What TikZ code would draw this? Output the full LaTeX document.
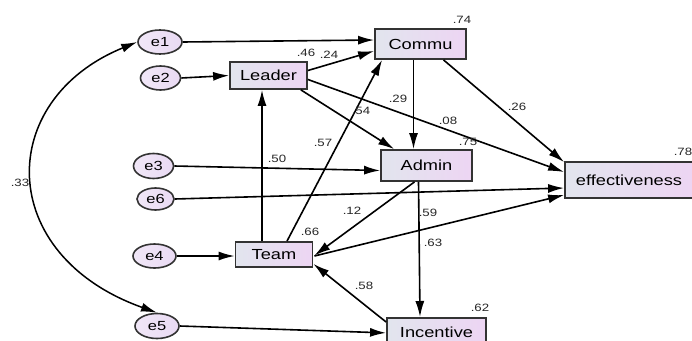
\documentclass[tikz,border=0pt]{standalone}
\usepackage{fontspec}
\setmainfont{Liberation Sans}[FakeStretch=1.25]
\usetikzlibrary{arrows.meta,calc,shapes.geometric}
\definecolor{lc}{HTML}{E2E5EE}
\definecolor{rc}{HTML}{EDD5F3}
\definecolor{ec}{HTML}{E9DAF3}
\begin{document}
\begin{tikzpicture}[x=1pt,y=-1pt,
 box/.style={draw=black!80, line width=1.8pt, left color=lc, right color=rc, inner sep=0pt, font=\fontsize{14.6}{16}\selectfont},
 err/.style={ellipse, draw=black!80, line width=1.6pt, left color=ec!65!white, right color=ec, inner sep=0pt, minimum height=24pt, font=\fontsize{13.2}{14}\selectfont},
 arr/.style={-{Latex[length=16pt,width=9pt]}, line width=1.6pt},
 darr/.style={{Latex[length=16pt,width=9pt]}-{Latex[length=16pt,width=9pt]}, line width=1.5pt},
 lab/.style={font=\fontsize{10.6}{12}\selectfont, text=black!85, inner sep=0pt}]
\useasboundingbox (0,0) rectangle (692,340);
\clip (0,0) rectangle (692,340);
\fill[white] (0,0) rectangle (692,340);
% boxes
\node[box, minimum width=77pt, minimum height=27pt] (leader) at (268.5,75.5) {Leader};
\node[box, minimum width=91pt, minimum height=30pt] (commu) at (420.5,44) {Commu};
\node[box, minimum width=91pt, minimum height=31pt] (admin) at (426.5,165.5) {Admin};
\node[box, minimum width=77pt, minimum height=25pt] (team) at (274,254.5) {Team};
\node[box, minimum width=128pt, minimum height=36pt] (eff) at (629,180) {effectiveness};
\node[box, minimum width=99pt, minimum height=28pt, anchor=north] (inc) at (436.5,317) {Incentive};
% errors
\node[err, minimum width=44pt] (e1) at (160,42) {e1};
\node[err, minimum width=40pt] (e2) at (160.5,78) {e2};
\node[err, minimum width=40pt, minimum height=25pt] (e3) at (153.5,166) {e3};
\node[err, minimum width=37pt, minimum height=22pt] (e6) at (155.5,199) {e6};
\node[err, minimum width=43pt] (e4) at (154.5,256) {e4};
\node[err, minimum width=44pt, minimum height=25pt] (e5) at (157,326) {e5};
% connectors
\draw[arr] (e1.east) -- ($(commu.west)+(0,-4)$);
\draw[arr] (e2.east) -- (leader.west);
\draw[arr] ($(leader.east)+(0,-5)$) -- ($(commu.west)+(0,7)$);
\draw[arr] ($(leader.south east)+(-7,0)$) -- ($(admin.north west)+(14,0)$);
\draw[arr] ($(leader.east)+(0,4)$) -- ($(eff.west)+(0,-8)$);
\draw[arr] ($(commu.south)+(-7,0)$) -- ($(admin.north)+(-13,0)$);
\draw[arr] ($(commu.south)+(23,0)$) -- ($(eff.north west)+(0,1)$);
\draw[arr] (e3.east) -- ($(admin.west)+(0,5)$);
\draw[arr] (e6.east) -- ($(eff.west)+(0,8)$);
\draw[arr] ($(team.north)+(-12,0)$) -- ($(leader.south)+(-6.5,0)$);
\draw[arr] ($(team.north)+(13,0)$) -- ($(commu.south west)+(8,0)$);
\draw[arr] (e4.east) -- ($(team.west)+(0,1.5)$);
\draw[arr] ($(admin.south)+(-12,0)$) -- ($(team.east)+(1,1)$);
\draw[arr] ($(team.east)+(1,1.5)$) -- ($(eff.west)+(0,15)$);
\draw[arr] ($(admin.south)+(-8,0)$) -- ($(inc.north)+(-16.5,0)$);
\draw[arr] ($(inc.north west)+(0,5)$) -- ($(team.south east)+(0,-4)$);
\draw[arr] (e5.east) -- ($(inc.west)+(0,1)$);
\draw[darr] (e1.west) .. controls (-5,100) and (-5,255) .. (e5.north);
% labels
\node[lab] at (462,20) {.74};
\node[lab] at (306,53) {.46};
\node[lab] at (329,55) {.24};
\node[lab] at (361,111) {.54};
\node[lab] at (398,99) {.29};
\node[lab] at (448,121) {.08};
\node[lab] at (468,142) {.75};
\node[lab] at (517,107) {.26};
\node[lab] at (683,152) {.78};
\node[lab] at (323,143) {.57};
\node[lab] at (277,159) {.50};
\node[lab] at (20,183) {.33};
\node[lab] at (310,232) {.66};
\node[lab] at (352,211) {.12};
\node[lab] at (428,213) {.59};
\node[lab] at (433,243) {.63};
\node[lab] at (364,286) {.58};
\node[lab] at (480,308) {.62};
\end{tikzpicture}
\end{document}
